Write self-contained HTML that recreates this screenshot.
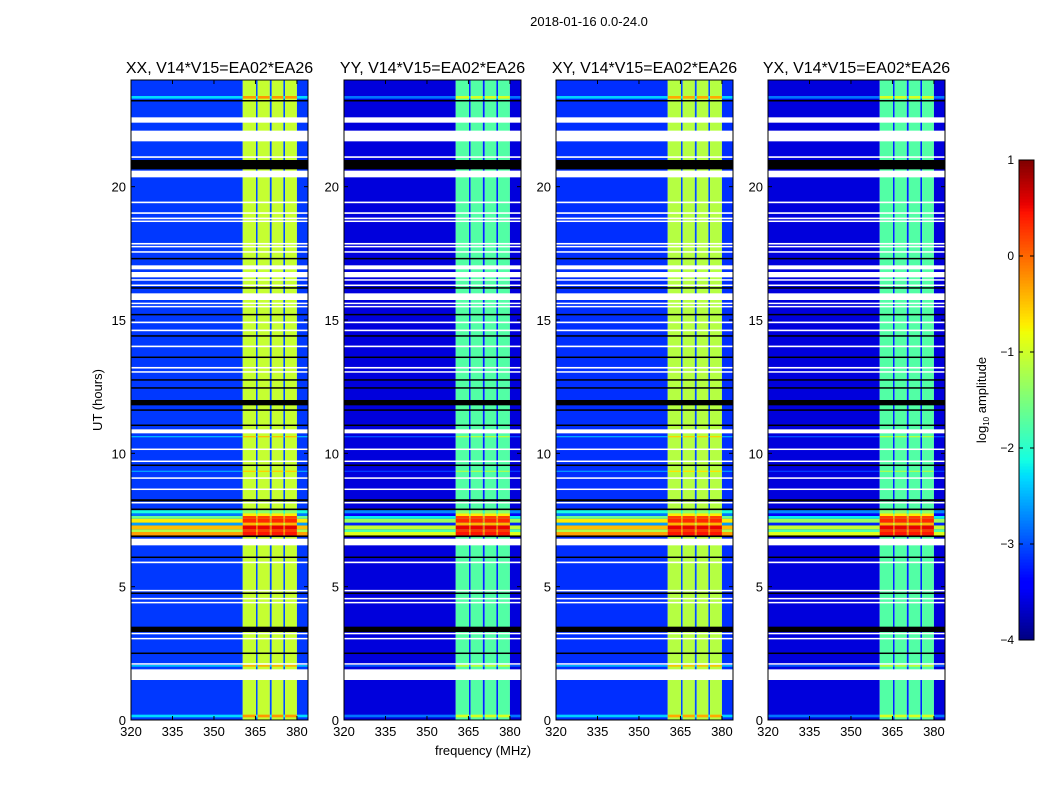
<!DOCTYPE html>
<html><head><meta charset="utf-8">
<style>
body{margin:0;background:#fff;}
svg text{font-family:"Liberation Sans",sans-serif;fill:#000;}
</style></head>
<body>
<svg id="chart" width="1050" height="800" viewBox="0 0 1050 800" xmlns="http://www.w3.org/2000/svg">
<rect width="1050" height="800" fill="#fff"/>
<text x="589" y="26" font-size="13" text-anchor="middle">2018-01-16 0.0-24.0</text>
<text transform="translate(102,400) rotate(-90)" font-size="13" text-anchor="middle">UT (hours)</text>
<text x="483" y="755" font-size="13" text-anchor="middle">frequency (MHz)</text>
<g id="panels"></g>
<g id="cbar"></g>
</svg>
<script>
// ---- data ----
const panelTitles = ["XX, V14*V15=EA02*EA26","YY, V14*V15=EA02*EA26","XY, V14*V15=EA02*EA26","YX, V14*V15=EA02*EA26"];
const xTicks = [320,335,350,365,380];
const yTicks = [0,5,10,15,20];
const cbarTicks = [-4,-3,-2,-1,0,1];
// spectral segments: [fStart, fEnd, kind] kind: b=background, s=band strip, d=dip
const specSegments = [[320,360.4,"b"],[360.4,365.2,"s"],[365.2,365.8,"d"],[365.8,370.2,"s"],[370.2,370.9,"d"],[370.9,375.1,"s"],[375.1,375.7,"d"],[375.7,380,"s"],[380,384,"b"]];
// log10 amplitude levels per panel
const bgLevel   = [-3.1,-3.6,-3.15,-3.6];
const bandLevel = [-1.05,-1.75,-1.15,-1.75];
const dipLevel  = [-3.0,-3.2,-3.0,-3.2];
const rfiShift  = [0,-0.6,0,-0.6];
// flagged rows (hours): white = flagged, black = zero
const whiteRows = [[22.4,22.6],[21.7,22.1],[21.08,21.14],[20.35,20.6],[19.38,19.44],[18.98,19.04],[18.78,18.84],[18.68,18.73],[17.83,17.89],[17.73,17.78],[17.53,17.58],[16.9,17.05],[16.6,16.8],[16.48,16.53],[16.28,16.33],[15.75,16.0],[15.6,15.65],[15.48,15.53],[14.88,14.94],[14.58,14.64],[13.98,14.04],[13.18,13.24],[13.03,13.08],[11.96,12.0],[10.75,10.9],[10.13,10.18],[9.68,9.73],[9.05,9.1],[8.63,8.68],[8.12,8.18],[6.55,6.8],[5.88,5.94],[4.83,4.88],[4.53,4.58],[4.38,4.43],[3.22,3.27],[3.03,3.08],[2.08,2.13],[1.5,1.9]];
const blackRows = [[23.2,23.25],[20.65,21.0],[17.28,17.33],[16.18,16.23],[15.18,15.23],[14.38,14.43],[13.58,13.63],[12.73,12.78],[12.43,12.48],[11.8,12.0],[11.6,11.65],[11.03,11.08],[9.53,9.58],[8.2,8.28],[7.87,7.93],[6.86,6.92],[6.08,6.13],[4.73,4.78],[3.3,3.5],[2.48,2.53]];
// RFI sub-rows: [h0,h1,bgLevel,bandLevel]
const rfiRows = [[6.92,7.05,-0.3,0.45],[7.05,7.15,-1.2,0.25],[7.15,7.3,-0.45,0.55],[7.3,7.4,-2.6,-0.4],[7.4,7.55,-0.7,0.35],[7.55,7.65,-1.6,0.2],[7.65,7.75,-2.8,-0.7],[7.75,7.87,-2.1,-1.4]];
// brighter (cyan) rows: [h0,h1,delta]
const brightRows = [[23.3,23.4,0.8],[0.1,0.2,0.8],[2.0,2.06,0.7],[9.3,9.35,0.5],[10.6,10.65,0.6]];

// ---- helpers ----
const NS="http://www.w3.org/2000/svg";
const jetR=[[0,0],[0.35,0],[0.66,1],[0.89,1],[1,0.5]];
const jetG=[[0,0],[0.125,0],[0.375,1],[0.64,1],[0.91,0],[1,0]];
const jetB=[[0,0.5],[0.11,1],[0.34,1],[0.65,0],[1,0]];
function interp(pts,t){for(let i=1;i<pts.length;i++){if(t<=pts[i][0]){const a=pts[i-1],b=pts[i];return a[1]+(b[1]-a[1])*(t-a[0])/(b[0]-a[0]);}}return pts[pts.length-1][1];}
function jet(v){
  const t=Math.max(0,Math.min(1,(v+4)/5));
  return `rgb(${Math.round(interp(jetR,t)*255)},${Math.round(interp(jetG,t)*255)},${Math.round(interp(jetB,t)*255)})`;
}
function mk(tag,attrs,parent){const e=document.createElementNS(NS,tag);for(const k in attrs)e.setAttribute(k,attrs[k]);parent.appendChild(e);return e;}
const panelX=[131,344,556,768], PW=177, PT=80, PB=720;
const fMin=320,fMax=384,hMin=0,hMax=24;
const panelsG=document.getElementById('panels');

panelTitles.forEach((title,p)=>{
  const x0=panelX[p];
  const xs=f=>x0+(f-fMin)/(fMax-fMin)*PW;
  const ys=h=>PB-(h-hMin)/(hMax-hMin)*(PB-PT);
  const g=mk('g',{},panelsG);
  
  
  const lvl=k=>k==='b'?bgLevel[p]:k==='s'?bandLevel[p]:dipLevel[p];
  specSegments.forEach(s=>{
    const r=mk('rect',{x:xs(s[0]),y:PT,width:xs(s[1])-xs(s[0]),height:PB-PT,fill:jet(lvl(s[2]))},g);
    
    
  });
  brightRows.forEach(b=>{
    specSegments.forEach(s=>{
      const r=mk('rect',{x:xs(s[0]),y:ys(b[1]),width:xs(s[1])-xs(s[0]),height:ys(b[0])-ys(b[1]),fill:jet(lvl(s[2])+b[2])},g);
      
      
    });
  });
  rfiRows.forEach(rr=>{
    specSegments.forEach(s=>{
      const v=s[2]==='s'?rr[3]:s[2]==='d'?rr[3]-0.6:rr[2]+rfiShift[p];
      const r=mk('rect',{x:xs(s[0]),y:ys(rr[1]),width:xs(s[1])-xs(s[0]),height:ys(rr[0])-ys(rr[1]),fill:jet(v)},g);
      
      
    });
  });
  whiteRows.forEach(w=>{
    const r=mk('rect',{x:x0,y:ys(w[1]),width:PW,height:Math.max(1.5,ys(w[0])-ys(w[1])),fill:'#fff'},g);
    
    
  });
  blackRows.forEach(w=>{
    const r=mk('rect',{x:x0,y:ys(w[1]),width:PW,height:Math.max(1.5,ys(w[0])-ys(w[1])),fill:'#000'},g);
    
    
  });
  const fr=mk('rect',{x:x0,y:PT,width:PW,height:PB-PT,fill:'none',stroke:'#000','stroke-width':1},g);
  
  
  const t=mk('text',{x:x0+PW/2,y:73,'font-size':16,'text-anchor':'middle'},g);
  t.textContent=title;
  
  
  xTicks.forEach(v=>{
    const x=xs(v);
    mk('line',{x1:x,x2:x,y1:PB,y2:PB-4,stroke:'#000'},g);
    mk('line',{x1:x,x2:x,y1:PT,y2:PT+4,stroke:'#000'},g);
    const l=mk('text',{x:x,y:PB+16,'font-size':13,'text-anchor':'middle'},g);
    l.textContent=v;
    
    
  });
  yTicks.forEach(v=>{
    const y=ys(v);
    mk('line',{x1:x0,x2:x0+4,y1:y,y2:y,stroke:'#000'},g);
    mk('line',{x1:x0+PW,x2:x0+PW-4,y1:y,y2:y,stroke:'#000'},g);
    const l=mk('text',{x:x0-5,y:y+5,'font-size':13,'text-anchor':'end'},g);
    l.textContent=v;
    
    
  });
});

// colorbar
const cb=document.getElementById('cbar');


const CX=1019,CW=15,CT=160,CB=640;
const cy=v=>CB-(v+4)/5*(CB-CT);
for(let i=0;i<160;i++){
  const v0=-4+i*5/160,v1=-4+(i+1)*5/160;
  mk('rect',{x:CX,y:cy(v1),width:CW,height:cy(v0)-cy(v1)+0.5,fill:jet((v0+v1)/2)},cb);
}
mk('rect',{x:CX,y:CT,width:CW,height:CB-CT,fill:'none',stroke:'#000'},cb);
cbarTicks.forEach(v=>{
  const y=cy(v);
  mk('line',{x1:CX,x2:CX+4,y1:y,y2:y,stroke:'#000'},cb);
  mk('line',{x1:CX+CW,x2:CX+CW-4,y1:y,y2:y,stroke:'#000'},cb);
  const l=mk('text',{x:1014,y:y+4,'font-size':12,'text-anchor':'end'},cb);
  l.textContent=v<0?'\u2212'+Math.abs(v):String(v);
  
  
});
const ct=mk('text',{transform:'translate(986,400) rotate(-90)','font-size':13,'text-anchor':'middle'},cb);
ct.innerHTML='log<tspan font-size="8" dy="3">10</tspan><tspan dy="-3"> amplitude</tspan>';


</script>
</body></html>
